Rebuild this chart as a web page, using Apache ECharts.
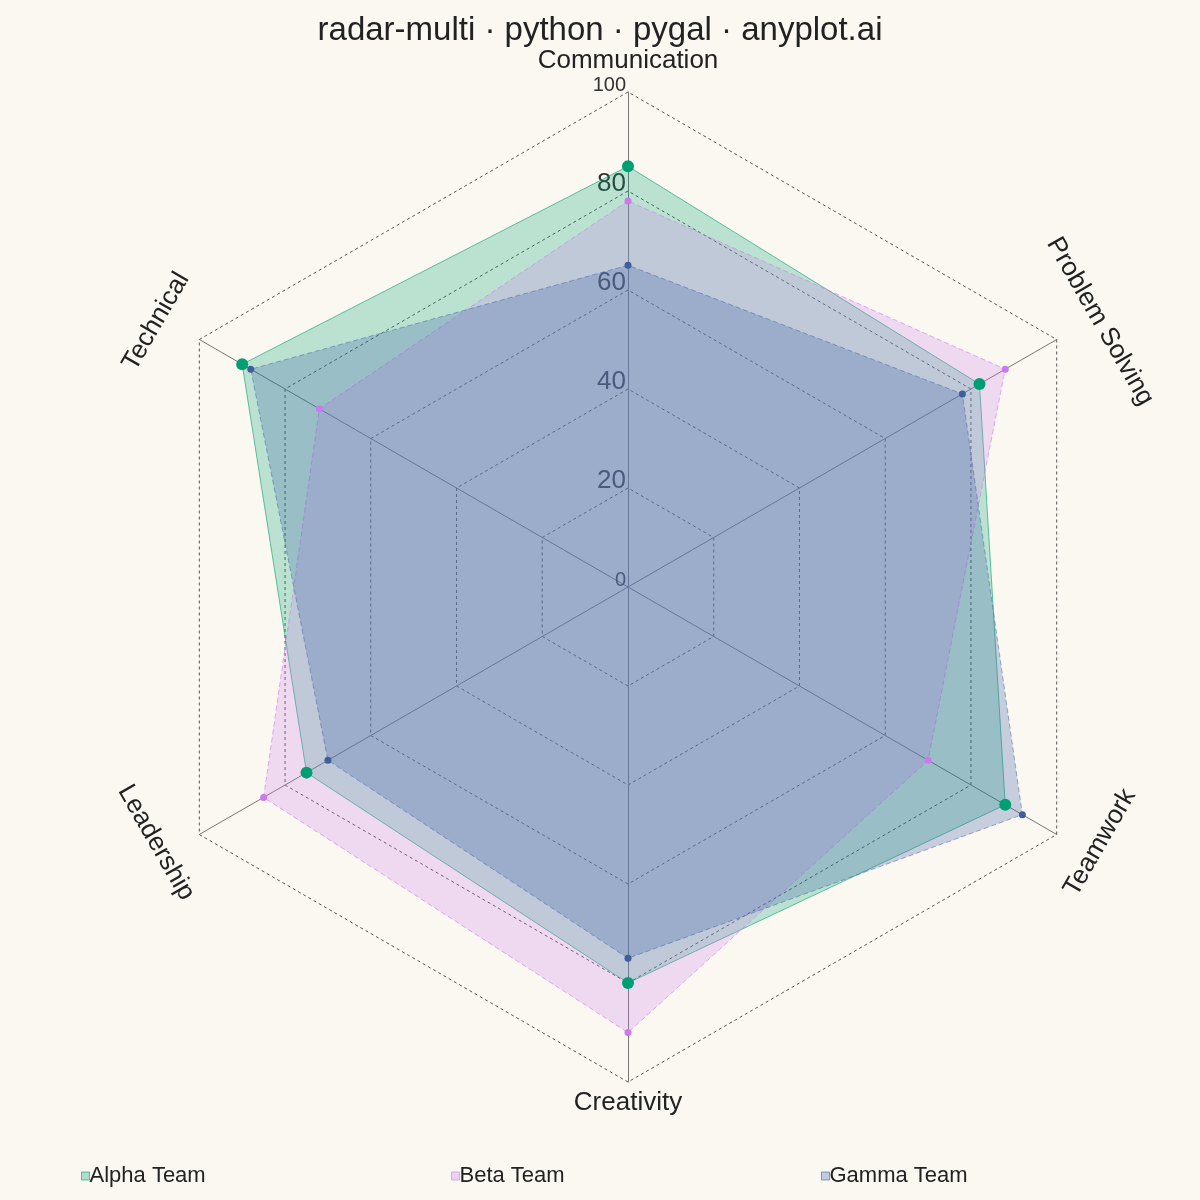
<!DOCTYPE html>
<html>
<head>
<meta charset="utf-8">
<script src="https://cdn.jsdelivr.net/npm/echarts@6/dist/echarts.min.js"></script>
<style>
html, body { margin: 0; padding: 0; background: #faf8f1; }
#chart { width: 1200px; height: 1200px; }
</style>
</head>
<body>
<div id="chart"></div>
<script>
// indicators in echarts order (counter-clockwise from top)
var indicators = ['Communication', 'Technical', 'Leadership', 'Creativity', 'Teamwork', 'Problem Solving'];
var alphaTeam = [85, 90, 75, 80, 88, 82];
var betaTeam = [78, 72, 85, 90, 70, 88];
var gammaTeam = [65, 88, 70, 75, 92, 78];
var radialTicks = [0, 20, 40, 60, 80, 100];

var cx = 628, cy = 587, R = 495;
var font = "'Liberation Sans', Arial, sans-serif";

var chart = echarts.init(document.getElementById('chart'));

var graphics = [];
// axis names, rotated like the original
for (var i = 0; i < indicators.length; i++) {
    var theta = i * 60;              // ccw degrees from top
    var cw = (360 - theta) % 360;    // clockwise degrees from top
    var rad = theta * Math.PI / 180;
    var x = cx - 545 * Math.sin(rad);
    var y = cy - 521 * Math.cos(rad) - 5;
    var rot;
    if (cw === 0 || cw === 180) rot = 0;
    else if (cw < 90 || cw > 270) rot = -cw;
    else rot = 180 - cw;
    graphics.push({
        type: 'text', x: x, y: y, rotation: rot * Math.PI / 180, z: 1,
        style: { text: indicators[i], align: 'center', verticalAlign: 'middle',
                 fontSize: 26, fontFamily: font, fill: '#222' }
    });
}
// radial tick labels along the first axis
for (var j = 0; j < radialTicks.length; j++) {
    var t = radialTicks[j];
    var big = (t > 0 && t < 100);
    graphics.push({
        type: 'text', x: cx - 2, y: cy - t / 100 * R - 7, z: 1,
        style: { text: String(t), align: 'right', verticalAlign: 'middle',
                 fontSize: big ? 26 : 20, fontFamily: font, fill: '#333' }
    });
}
graphics.push({
    type: 'text', x: 600, y: 31, z: 1,
    style: { text: 'radar-multi · python · pygal · anyplot.ai', align: 'center', verticalAlign: 'middle',
             fontSize: 33, fontFamily: font, fill: '#222' }
});

function legendFor(name, left, fill, border) {
    return {
        data: [{ name: name, itemStyle: { color: fill, borderColor: border, borderWidth: 1 } }],
        left: left, top: 1160, icon: 'rect', itemWidth: 8, itemHeight: 8,
        textStyle: { fontSize: 22, fontFamily: font, color: '#222', padding: [0, 0, 0, -5] }
    };
}

var option = {
    backgroundColor: '#faf8f1',
    animation: false,
    graphic: { elements: graphics },
    legend: [
        legendFor('Alpha Team', 76, 'rgba(0,158,115,0.3)', 'rgba(0,158,115,0.6)'),
        legendFor('Beta Team', 446, 'rgba(204,121,240,0.3)', 'rgba(204,121,240,0.6)'),
        legendFor('Gamma Team', 816, 'rgba(66,96,170,0.3)', 'rgba(66,96,170,0.6)')
    ],
    radar: {
        center: [cx, cy],
        radius: R,
        startAngle: 90,
        shape: 'polygon',
        splitNumber: 5,
        indicator: indicators.map(function (n) { return { name: n, min: 0, max: 100 }; }),
        axisName: { show: false },
        axisLine: { lineStyle: { color: '#777', width: 1 } },
        splitLine: { lineStyle: { color: '#555', width: 1, type: [3, 3] } },
        splitArea: { show: false }
    },
    series: [{
        type: 'radar',
        z: 2,
        emphasis: { disabled: true },
        data: [
            { name: 'Alpha Team', value: alphaTeam, symbol: 'circle', symbolSize: 12,
              itemStyle: { color: '#009E73' },
              lineStyle: { color: 'rgba(0,158,115,0.6)', width: 1 },
              areaStyle: { color: 'rgba(0,158,115,0.25)', opacity: 1 } },
            { name: 'Beta Team', value: betaTeam, symbol: 'circle', symbolSize: 7,
              itemStyle: { color: '#CC79F0' },
              lineStyle: { color: 'rgba(204,121,240,0.6)', width: 1, type: [5, 3] },
              areaStyle: { color: 'rgba(204,121,240,0.24)', opacity: 1 } },
            { name: 'Gamma Team', value: gammaTeam, symbol: 'circle', symbolSize: 7,
              itemStyle: { color: '#3F5E9E' },
              lineStyle: { color: 'rgba(66,96,170,0.5)', width: 1, type: [5, 3] },
              areaStyle: { color: 'rgba(66,96,170,0.28)', opacity: 1 } }
        ]
    }]
};

chart.setOption(option);
</script>
</body>
</html>
